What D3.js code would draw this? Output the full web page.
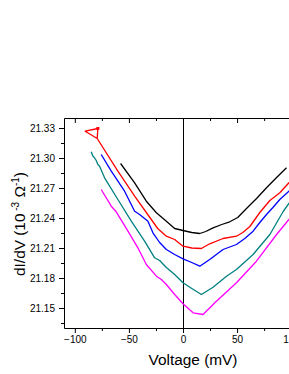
<!DOCTYPE html>
<html><head><meta charset="utf-8">
<script src="https://cdn.jsdelivr.net/npm/d3@7"></script>
<style>body{margin:0;background:#fff}svg{display:block}</style>
</head><body><svg id="c" width="289" height="374"></svg>
<script>
// ---- data (Voltage mV, dI/dV 10^-3 Ω^-1) ----
const xMajorTicks = [-100, -50, 0, 50, 100];
const xMinorTicks = [-75, -25, 25, 75];
const yMajorTicks = [21.15, 21.18, 21.21, 21.24, 21.27, 21.30, 21.33];
const yMinorTicks = [21.135, 21.165, 21.195, 21.225, 21.255, 21.285, 21.315];
const xLabel = "Voltage (mV)";

const blackCurve = [[-57.7,21.2945],[-44.7,21.2752],[-33.9,21.2568],[-24.6,21.2452],[-15.4,21.2368],[-7.7,21.2295],[0,21.2275],[8.1,21.2255],[15.5,21.2245],[21.0,21.2265],[27.8,21.2302],[35.8,21.2335],[43.2,21.2362],[50.6,21.2405],[58.7,21.2495],[68.0,21.2595],[77.2,21.2702],[86.5,21.2805],[95.7,21.2902]];
const redCurve = [[-79.3,21.3195],[-90.4,21.3268],[-78.7,21.3295],[-79.3,21.3195],[-60.2,21.2868],[-44.7,21.2618],[-29.3,21.2385],[-23.4,21.2295],[-15.4,21.2218],[-7.7,21.2185],[0,21.2118],[8.1,21.2100],[17.0,21.2095],[24.7,21.2142],[37.0,21.2195],[49.4,21.2218],[55.3,21.2255],[61.8,21.2315],[71.0,21.2455],[80.3,21.2575],[89.5,21.2652],[97.9,21.2752],[108.1,21.2885]];
const blueCurve = [[-75.6,21.3035],[-66.3,21.2868],[-54.0,21.2668],[-44.7,21.2468],[-40.1,21.2435],[-32.4,21.2368],[-27.8,21.2252],[-21.6,21.2155],[-15.4,21.2085],[-7.7,21.2035],[0,21.1992],[8.1,21.1955],[15.5,21.1918],[24.7,21.1985],[37.0,21.2085],[49.4,21.2135],[57.1,21.2195],[64.8,21.2268],[71.0,21.2355],[77.2,21.2435],[83.1,21.2505],[89.5,21.2585],[97.9,21.2668],[108.1,21.2805]];
const tealCurve = [[-84.8,21.3062],[-83.6,21.3025],[-81.8,21.3002],[-80.2,21.2975],[-78.7,21.2935],[-77.1,21.2918],[-72.5,21.2802],[-60.2,21.2585],[-47.8,21.2368],[-35.5,21.2168],[-26.2,21.2002],[-21.6,21.1975],[-15.4,21.1905],[-7.7,21.1835],[0,21.1752],[8.1,21.1695],[17.0,21.1635],[27.8,21.1708],[40.2,21.1818],[49.4,21.1885],[64.8,21.2035],[80.3,21.2235],[92.6,21.2465],[97.9,21.2545],[108.1,21.2685]];
const magentaCurve = [[-75.6,21.2685],[-66.3,21.2518],[-61.7,21.2462],[-50.9,21.2268],[-41.7,21.2102],[-33.9,21.1935],[-24.6,21.1818],[-20.0,21.1785],[-15.4,21.1735],[-7.7,21.1635],[0,21.1542],[9.3,21.1452],[18.5,21.1435],[26.3,21.1518],[29.4,21.1552],[49.4,21.1752],[67.9,21.1968],[86.5,21.2235],[97.9,21.2385],[108.1,21.2535]];

const seriesList = [
  {data: blackCurve, color: "#000000"},
  {data: redCurve, color: "#ff0000"},
  {data: blueCurve, color: "#0000ff"},
  {data: tealCurve, color: "#008080"},
  {data: magentaCurve, color: "#ff00ff"}
];

// ---- layout ----
const L = 64, T = 118, R = 302, B = 328;
const FONT = "'Liberation Sans', Arial, Helvetica, sans-serif";
const svg = d3.select("#c");
const x = d3.scaleLinear().domain([-110, 110]).range([L, R]);
const y = d3.scaleLinear().domain([21.13, 21.34]).range([B, T]);

function styleAxis(g){
  g.selectAll("path.domain").attr("stroke", "#000").attr("stroke-width", 1);
  g.selectAll(".tick line").attr("stroke", "#000").attr("stroke-width", 1);
  g.selectAll("text").attr("fill", "#000").attr("font-family", FONT).attr("font-size", 10);
}

// left axis
svg.append("g").attr("transform", `translate(${L},0)`)
  .call(d3.axisLeft(y).tickValues(yMinorTicks).tickSize(3).tickSizeOuter(0).tickFormat(""))
  .call(styleAxis);
svg.append("g").attr("transform", `translate(${L},0)`)
  .call(d3.axisLeft(y).tickValues(yMajorTicks).tickSize(5).tickSizeOuter(0).tickPadding(4).tickFormat(d3.format(".2f")))
  .call(g => g.select(".domain").remove())
  .call(styleAxis);

// bottom axis
svg.append("g").attr("transform", `translate(0,${B})`)
  .call(d3.axisBottom(x).tickValues(xMinorTicks).tickSize(3).tickSizeOuter(0).tickFormat(""))
  .call(styleAxis);
svg.append("g").attr("transform", `translate(0,${B})`)
  .call(d3.axisBottom(x).tickValues(xMajorTicks).tickSize(5).tickSizeOuter(0).tickPadding(3).tickFormat(d3.format("d")))
  .call(g => g.select(".domain").remove())
  .call(styleAxis);

// top frame (inward ticks)
svg.append("g").attr("transform", `translate(0,${T})`)
  .call(d3.axisTop(x).tickValues(xMinorTicks).tickSize(-3).tickSizeOuter(0).tickFormat(""))
  .call(styleAxis);
svg.append("g").attr("transform", `translate(0,${T})`)
  .call(d3.axisTop(x).tickValues(xMajorTicks).tickSize(-5).tickSizeOuter(0).tickFormat(""))
  .call(g => g.select(".domain").remove())
  .call(styleAxis);
// right frame
svg.append("line").attr("x1", R + 0.5).attr("x2", R + 0.5).attr("y1", T).attr("y2", B)
  .attr("stroke", "#000");

// zero-bias vertical line
svg.append("line").attr("x1", Math.round(x(0)) + 0.5).attr("x2", Math.round(x(0)) + 0.5)
  .attr("y1", T).attr("y2", B).attr("stroke", "#000").attr("stroke-width", 1);

// curves
const line = d3.line().x(d => x(d[0])).y(d => y(d[1]));
svg.append("g").selectAll("path").data(seriesList).join("path")
  .attr("d", d => line(d.data))
  .attr("fill", "none")
  .attr("stroke", d => d.color)
  .attr("stroke-width", 1.3)
  .attr("stroke-linejoin", "round");

// start marker on red loop
svg.append("rect").attr("x", x(redCurve[2][0]) - 1.5).attr("y", y(redCurve[2][1]) - 1.5)
  .attr("width", 3).attr("height", 3).attr("fill", "#ff0000");

// axis titles
svg.append("text").attr("x", 193).attr("y", 365).attr("text-anchor", "middle")
  .attr("font-family", FONT).attr("font-size", 15.4).attr("fill", "#000").text(xLabel);

const yt = svg.append("text").attr("transform", "translate(25,224) rotate(-90)")
  .attr("text-anchor", "middle").attr("font-family", FONT).attr("font-size", 15.4).attr("fill", "#000");
yt.append("tspan").text("dI/dV (10");
yt.append("tspan").attr("font-size", 10).attr("dy", -6).text(" -3");
yt.append("tspan").attr("dy", 6).text(" Ω");
yt.append("tspan").attr("font-size", 10).attr("dy", -6).text("-1");
yt.append("tspan").attr("dy", 6).text(")");
</script>
</body></html>
